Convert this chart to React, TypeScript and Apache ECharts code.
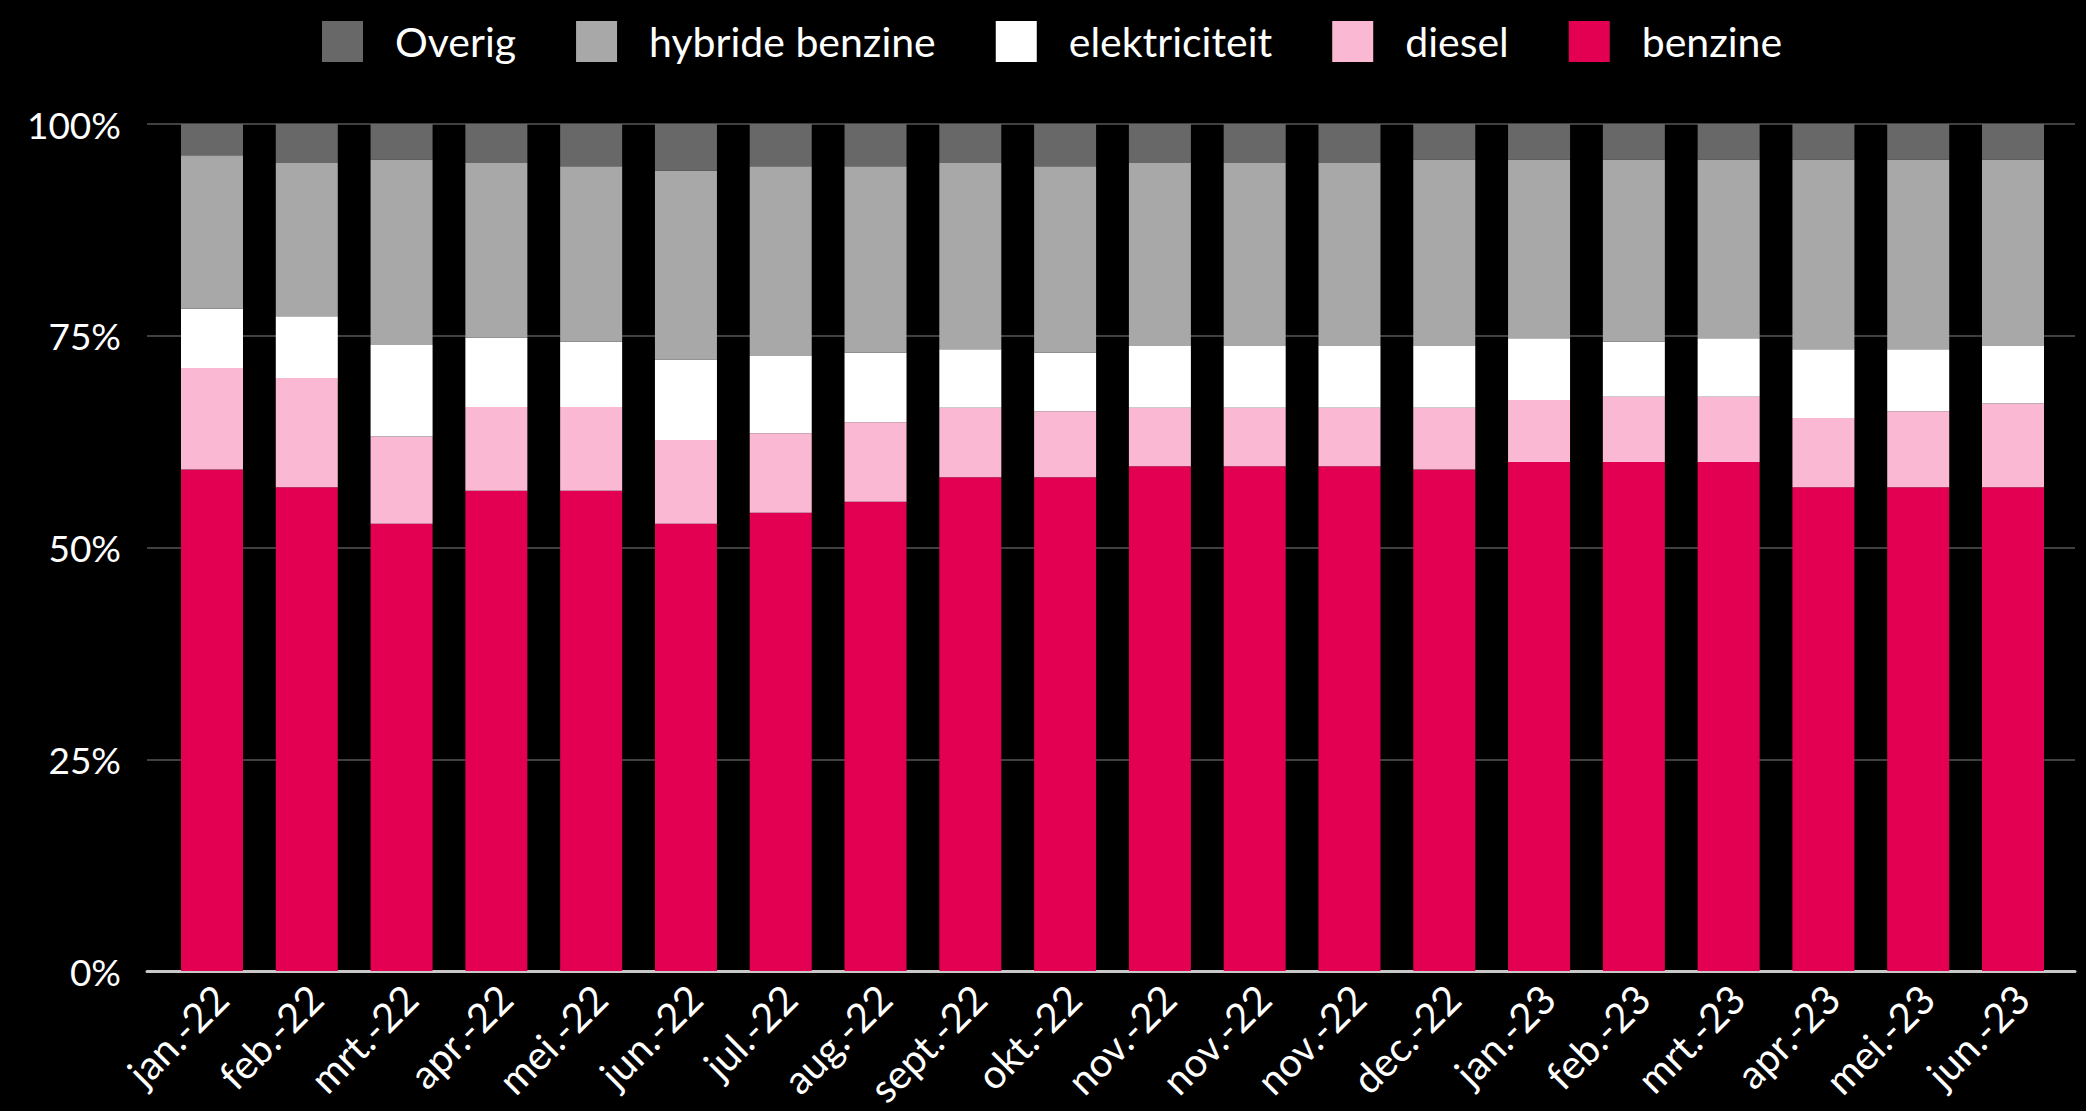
import React, { useEffect, useRef } from "react";
import * as echarts from "echarts";

const categories = [
  "jan.-22", "feb.-22", "mrt.-22", "apr.-22", "mei.-22", "jun.-22", "jul.-22",
  "aug.-22", "sept.-22", "okt.-22", "nov.-22", "nov.-22", "nov.-22", "dec.-22",
  "jan.-23", "feb.-23", "mrt.-23", "apr.-23", "mei.-23", "jun.-23",
];

const benzine = [59.2, 57.1, 52.8, 56.7, 56.7, 52.8, 54.1, 55.4, 58.3, 58.3, 59.6, 59.6, 59.6, 59.2, 60.1, 60.1, 60.1, 57.1, 57.1, 57.1];
const diesel = [12.0, 12.9, 10.3, 9.9, 9.9, 9.9, 9.4, 9.4, 8.2, 7.8, 6.9, 6.9, 6.9, 7.3, 7.3, 7.7, 7.7, 8.2, 9.0, 9.9];
const elektriciteit = [7.0, 7.3, 10.8, 8.2, 7.7, 9.5, 9.1, 8.2, 6.9, 6.9, 7.3, 7.3, 7.3, 7.3, 7.3, 6.5, 6.9, 8.1, 7.3, 6.8];
const hybrideBenzine = [18.1, 18.1, 21.9, 20.6, 20.7, 22.3, 22.4, 22.0, 22.0, 22.0, 21.6, 21.6, 21.6, 22.0, 21.1, 21.5, 21.1, 22.4, 22.4, 22.0];
const overig = [3.7, 4.6, 4.2, 4.6, 5.0, 5.5, 5.0, 5.0, 4.6, 5.0, 4.6, 4.6, 4.6, 4.2, 4.2, 4.2, 4.2, 4.2, 4.2, 4.2];

const yTicks = [0, 25, 50, 75, 100];

const legendOrder = ["Overig", "hybride benzine", "elektriciteit", "diesel", "benzine"];

const FONT = "Lato";

export default function App() {
  const ref = useRef<HTMLDivElement>(null);

  useEffect(() => {
    document.body.style.margin = "0";
    document.body.style.background = "#000";
    if (!ref.current) return;
    const chart = echarts.init(ref.current, undefined, { renderer: "svg" });

    const stackSeries = [
      { name: "benzine", data: benzine, color: "#e30052" },
      { name: "diesel", data: diesel, color: "#fab8d2" },
      { name: "elektriciteit", data: elektriciteit, color: "#ffffff" },
      { name: "hybride benzine", data: hybrideBenzine, color: "#a8a8a8" },
      { name: "Overig", data: overig, color: "#686868" },
    ];

    chart.setOption({
      animation: false,
      backgroundColor: "#000000",
      textStyle: { fontFamily: FONT },
      legend: {
        data: legendOrder,
        left: 317,
        top: 16,
        itemWidth: 41,
        itemHeight: 41,
        itemGap: 60,
        icon: "rect",
        textStyle: {
          color: "#ffffff",
          fontSize: 41,
          fontFamily: FONT,
          padding: [0, 0, 0, 27],
        },
      },
      grid: [
        { left: 147, right: 11, top: 124, bottom: 140 },
        { left: 164.6, right: 25.6, top: 124, bottom: 140 },
        { left: 173.6, right: 16.6, top: 124, bottom: 140 },
      ],
      xAxis: [
        {
          gridIndex: 0,
          type: "category",
          data: [""],
          axisLine: { show: true, lineStyle: { color: "#c8c8c8", width: 3 } },
          axisTick: { show: false },
          axisLabel: { show: false },
          splitLine: { show: false },
        },
        {
          gridIndex: 1,
          type: "category",
          data: categories,
          axisLine: { show: false },
          axisTick: { show: false },
          axisLabel: { show: false },
        },
        {
          gridIndex: 2,
          type: "category",
          data: categories,
          axisLine: { show: false },
          axisTick: { show: false },
          axisLabel: {
            show: true,
            rotate: 45,
            interval: 0,
            color: "#ffffff",
            fontSize: 40,
            fontFamily: FONT,
            margin: 41,
          },
        },
      ],
      yAxis: [
        {
          gridIndex: 0,
          type: "value",
          min: yTicks[0],
          max: yTicks[yTicks.length - 1],
          interval: 25,
          axisLine: { show: false },
          axisTick: { show: false },
          axisLabel: {
            color: "#ffffff",
            fontSize: 37,
            fontFamily: FONT,
            margin: 26,
            formatter: "{value}%",
          },
          splitLine: { show: true, lineStyle: { color: "#404040", width: 2 } },
        },
        {
          gridIndex: 1,
          type: "value",
          min: 0,
          max: 100,
          show: false,
          splitLine: { show: false },
        },
        {
          gridIndex: 2,
          type: "value",
          min: 0,
          max: 100,
          show: false,
          splitLine: { show: false },
        },
      ],
      series: stackSeries.map((s) => ({
        name: s.name,
        type: "bar",
        stack: "total",
        xAxisIndex: 1,
        yAxisIndex: 1,
        barWidth: 62,
        data: s.data,
        itemStyle: { color: s.color },
        emphasis: { disabled: true },
      })),
    });

    return () => chart.dispose();
  }, []);

  return <div ref={ref} style={{ width: 2086, height: 1111 }} />;
}
